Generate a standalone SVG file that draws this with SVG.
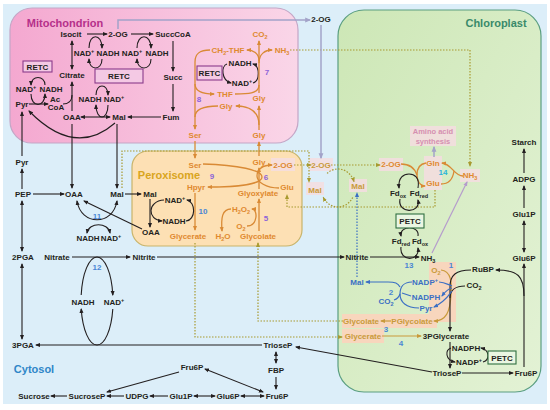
<svg xmlns="http://www.w3.org/2000/svg" width="550" height="410" viewBox="0 0 550 410">
<defs>
<linearGradient id="gm" x1="0" y1="0" x2="1" y2="0"><stop offset="0" stop-color="#f4a8d0"/><stop offset="1" stop-color="#fad6e8"/></linearGradient>
<linearGradient id="gc" x1="0" y1="0" x2="1" y2="1"><stop offset="0" stop-color="#cde7b6"/><stop offset="1" stop-color="#e3f2d5"/></linearGradient>
<marker id="mk" viewBox="0 0 10 10" refX="8" refY="5" markerWidth="5" markerHeight="5" markerUnits="userSpaceOnUse" orient="auto-start-reverse"><path d="M0,1 L10,5 L0,9 z" fill="#231f20"/></marker>
<marker id="mo" viewBox="0 0 10 10" refX="8" refY="5" markerWidth="5" markerHeight="5" markerUnits="userSpaceOnUse" orient="auto-start-reverse"><path d="M0,1 L10,5 L0,9 z" fill="#d98a35"/></marker>
<marker id="mv" viewBox="0 0 10 10" refX="8" refY="5" markerWidth="5" markerHeight="5" markerUnits="userSpaceOnUse" orient="auto-start-reverse"><path d="M0,1 L10,5 L0,9 z" fill="#c99a3a"/></marker>
<marker id="md" viewBox="0 0 10 10" refX="8" refY="5" markerWidth="5" markerHeight="5" markerUnits="userSpaceOnUse" orient="auto-start-reverse"><path d="M0,1 L10,5 L0,9 z" fill="#a89a30"/></marker>
<marker id="mb" viewBox="0 0 10 10" refX="8" refY="5" markerWidth="5" markerHeight="5" markerUnits="userSpaceOnUse" orient="auto-start-reverse"><path d="M0,1 L10,5 L0,9 z" fill="#3b6fc4"/></marker>
<marker id="mg" viewBox="0 0 10 10" refX="8" refY="5" markerWidth="6" markerHeight="6" markerUnits="userSpaceOnUse" orient="auto-start-reverse"><path d="M0,1 L10,5 L0,9 z" fill="#a3a3c9"/></marker>
<marker id="mp" viewBox="0 0 10 10" refX="8" refY="5" markerWidth="5" markerHeight="5" markerUnits="userSpaceOnUse" orient="auto-start-reverse"><path d="M0,1 L10,5 L0,9 z" fill="#b59ccc"/></marker>
<style>
text{font-family:"Liberation Sans",Arial,sans-serif;font-size:8px;font-weight:bold;text-anchor:middle;fill:#231f20}
.s{font-size:5.5px}
.o{fill:#e0892f}.v{fill:#c99a3a}.b{fill:#3b6fc4}.p{fill:#8c63d8}.nb{fill:#4a86d4}.c{fill:#2bb5d8}.am{fill:#d58fb0;font-size:7.5px}
.T{font-size:11px}
.k{fill:none;stroke:#231f20;stroke-width:1.1}
.ko{fill:none;stroke:#d98a35;stroke-width:1.3}
.kv{fill:none;stroke:#c99a3a;stroke-width:1.2}
.kd{fill:none;stroke:#a89a30;stroke-width:1.2;stroke-dasharray:1.5 1.5}
.kb{fill:none;stroke:#3b6fc4;stroke-width:1.2}
.kbd{fill:none;stroke:#3b6fc4;stroke-width:1.2;stroke-dasharray:1.5 1.5}
.kg{fill:none;stroke:#a3a3c9;stroke-width:1.5}
.kp{fill:none;stroke:#b59ccc;stroke-width:1.2}
.rb{fill:#f4c9e4;stroke:#8b3b8b;stroke-width:1.1}
.pb{fill:#eaf6e2;stroke:#2f6f40;stroke-width:1.1}
.hl{fill:#f8d6bd}
.hp{fill:#f4dde0;opacity:.85}
</style>
</defs>

<rect x="3" y="4" width="544" height="400" fill="#dceef9"/>

<g id="mitochondrion"><rect x="10" y="8" width="288" height="135" rx="22" fill="url(#gm)" stroke="#c4a6c6" stroke-width="1.2"/><text class="T" x="65" y="27" style="fill:#b5308a">Mitochondrion</text></g>
<g id="chloroplast"><rect x="338" y="10" width="203" height="382" rx="26" fill="url(#gc)" stroke="#5a9e80" stroke-width="1.2"/><text class="T" x="496" y="27" style="fill:#3a8a6a">Chloroplast</text></g>
<g id="peroxisome"><rect x="132" y="151" width="170" height="95" rx="16" fill="#fde0b4" stroke="#c9b46a" stroke-width="1.2"/><text class="T" x="169" y="179" style="fill:#d9a520">Peroxisome</text></g>
<g id="cytosol"><text class="T" x="34" y="373" style="fill:#2f86c8">Cytosol</text></g>

<g id="highlights">
<rect class="hl" x="342" y="314" width="95" height="14"/>
<rect class="hl" x="342" y="329" width="42" height="14"/>
<rect class="hl" x="429" y="262" width="27" height="60"/>
<rect class="hp" x="271" y="158" width="24" height="13"/>
<rect class="hp" x="309" y="158" width="24" height="13"/>
<rect class="hp" x="306" y="182" width="18" height="13"/>
<rect class="hp" x="349" y="179" width="18" height="13"/>
<rect class="hp" x="379" y="158" width="24" height="13"/>
<rect class="hp" x="424" y="156" width="18" height="34"/>
<rect class="hp" x="460" y="169" width="20" height="13"/>
<rect class="hp" x="410" y="126" width="46" height="20"/>
</g>

<g id="connectors">
<path class="k" d="M87,34 L107,34" marker-end="url(#mk)"/>
<path class="k" d="M131,34 L153,34" marker-end="url(#mk)"/>
<path class="k" d="M72,41 L72,69" marker-start="url(#mk)" marker-end="url(#mk)"/>
<path class="k" d="M72,111 L72,82" marker-end="url(#mk)"/>
<path class="k" d="M63,104 C68,104 72,101 72,95"/>
<path class="k" d="M29,104 L48,104" marker-end="url(#mk)"/>
<path class="k" d="M173,41 L173,71" marker-end="url(#mk)"/>
<path class="k" d="M173,84 L173,111" marker-end="url(#mk)"/>
<path class="k" d="M161,117 L128,117" marker-end="url(#mk)"/>
<path class="k" d="M81,117 L110,117" marker-start="url(#mk)" marker-end="url(#mk)"/>
<path class="k" d="M115,123 Q75,158 29,111" marker-end="url(#mk)"/>
<path class="k" d="M89,48 C89,33 102,33 102,48" marker-end="url(#mk)"/>
<path class="k" d="M102,59 C102,71 89,71 89,59" marker-end="url(#mk)"/>
<path class="k" d="M137,48 C137,33 151,33 151,48" marker-end="url(#mk)"/>
<path class="k" d="M151,59 C151,71 137,71 137,59" marker-end="url(#mk)"/>
<path class="k" d="M45,85 C45,75 31,75 31,85" marker-end="url(#mk)"/>
<path class="k" d="M31,94 C31,108 45,108 45,94" marker-end="url(#mk)"/>
<path class="k" d="M96,95 C96,83 108,83 108,95" marker-end="url(#mk)"/>
<path class="k" d="M108,105 C108,121 96,121 96,105" marker-end="url(#mk)"/>
<path class="k" d="M253,83 C260,81 260,66 253,64" marker-end="url(#mk)"/>
<path class="k" d="M227,64 C221,66 221,80 231,83" marker-end="url(#mk)"/>
<path class="ko" d="M259,93 L259,41" marker-end="url(#mo)"/>
<path class="ko" d="M259,130 L259,106" marker-end="url(#mo)"/>
<path class="ko" d="M259,125 C259,112 250,106 236,106" marker-end="url(#mo)"/>
<path class="ko" d="M259,63 C259,54 265,50 272,50" marker-end="url(#mo)"/>
<path class="ko" d="M259,85 C259,94 247,94 235,94"/>
<path class="ko" d="M259,61 C259,53 253,50 247,50" marker-end="url(#mo)"/>
<path class="ko" d="M210,50 C199,50 195,54 195,62 L195,129" marker-end="url(#mo)"/>
<path class="ko" d="M195,84 C195,91 201,94 214,94" marker-end="url(#mo)"/>
<path class="ko" d="M218,106 C205,106 195,108 195,117"/>
<path class="ko" d="M195,141 L195,158" marker-end="url(#mo)"/>
<path class="ko" d="M259,156 L259,142" marker-end="url(#mo)"/>
<path class="ko" d="M259,189 L259,168" marker-end="url(#mo)"/>
<path class="ko" d="M203,164 C238,165 262,170 262,177 C262,184 238,187 208,187" marker-end="url(#mo)"/>
<path class="ko" d="M279,188 C266,188 257,182 257,176 C257,169 263,165 272,165" marker-end="url(#mo)"/>
<path class="ko" d="M259,231 L259,199" marker-end="url(#mo)"/>
<path class="ko" d="M247,226 C258,226 258,209 252,209" marker-end="url(#mo)"/>
<path class="ko" d="M231,209 C222,209 221,218 222,231" marker-end="url(#mo)"/>
<path class="ko" d="M195,193 L195,230" marker-end="url(#mo)"/>
<path class="k" d="M125,194 L141,194" marker-end="url(#mk)"/>
<path class="k" d="M150,199 L150,227" marker-end="url(#mk)"/>
<path class="k" d="M164,200 C147,201 147,220 162,221" marker-end="url(#mk)"/>
<path class="k" d="M186,221 C196,220 196,202 187,200" marker-end="url(#mk)"/>
<path class="k" d="M142,229 L84,201" marker-end="url(#mk)"/>
<path class="k" d="M22,156 L22,112" marker-end="url(#mk)"/>
<path class="k" d="M22,189 L22,169" marker-end="url(#mk)"/>
<path class="k" d="M22,201 L22,251" marker-start="url(#mk)" marker-end="url(#mk)"/>
<path class="k" d="M22,264 L22,339" marker-start="url(#mk)" marker-end="url(#mk)"/>
<path class="k" d="M33,194 L64,194" marker-end="url(#mk)"/>
<path class="k" d="M72,124 L72,188" marker-end="url(#mk)"/>
<path class="k" d="M117,124 L117,188" marker-end="url(#mk)"/>
<path class="k" d="M77,201 C81,226 113,226 117,201" marker-start="url(#mk)" marker-end="url(#mk)"/>
<path class="k" d="M87,233 C89,222 108,222 110,233" marker-start="url(#mk)" marker-end="url(#mk)"/>
<path class="k" d="M72,257 L130,257" marker-end="url(#mk)"/>
<path class="k" d="M157,257 L344,257" marker-end="url(#mk)"/>
<path class="k" d="M81.2,295 A16,44 0 0 1 97,257"/>
<path class="k" d="M97,257 A16,44 0 0 1 112.8,295" marker-end="url(#mk)"/>
<path class="k" d="M112.8,309 A16,44 0 0 1 97,345"/>
<path class="k" d="M97,345 A16,44 0 0 1 81.2,309" marker-end="url(#mk)"/>
<path class="k" d="M262,345 L36,345" marker-end="url(#mk)"/>
<path class="k" d="M276,352 L276,363" marker-start="url(#mk)" marker-end="url(#mk)"/>
<path class="k" d="M276,377 L276,389" marker-end="url(#mk)"/>
<path class="k" d="M205,369 L263,392" marker-start="url(#mk)" marker-end="url(#mk)"/>
<path class="k" d="M179,372 L107,392" marker-end="url(#mk)"/>
<path class="k" d="M241,396 L264,396" marker-start="url(#mk)" marker-end="url(#mk)"/>
<path class="k" d="M194,396 L215,396" marker-start="url(#mk)" marker-end="url(#mk)"/>
<path class="k" d="M168,396 L150,396" marker-end="url(#mk)"/>
<path class="k" d="M124,396 L107,396" marker-end="url(#mk)"/>
<path class="k" d="M67,396 L51,396" marker-end="url(#mk)"/>
<path class="k" d="M432,372 L296,347" marker-end="url(#mk)"/>
<path class="kd" d="M290,50 L470,50 L470,166" marker-end="url(#md)"/>
<path class="kd" d="M294,165 L311,165" marker-end="url(#md)"/>
<path class="kd" d="M331,165 L380,165" marker-end="url(#md)"/>
<path class="kd" d="M435,190 L435,207 L287,207 L287,195" marker-end="url(#md)"/>
<path class="kd" d="M122,188 L122,151 L309,151 L309,182" marker-end="url(#md)"/>
<path class="kd" d="M343,321 L258,321 L258,243" marker-end="url(#md)"/>
<path class="kd" d="M195,243 L195,337 L342,337" marker-end="url(#md)"/>
<path class="kd" d="M327.1,173.4 A17,19 0 0 1 354,181.5" marker-end="url(#md)"/>
<path class="kd" d="M352.7,197.5 A17,19 0 0 1 323.3,197.5" marker-end="url(#md)"/>
<path class="kbd" d="M357,277 L357,193" marker-end="url(#mb)"/>
<path class="kg" d="M118,29 L118,20 L310,20" marker-end="url(#mg)"/>
<path class="kg" d="M321,25 L321,158" marker-end="url(#mg)"/>
<path class="kg" d="M434,157 L434,147" marker-end="url(#mg)"/>
<path class="kp" d="M432,253 L467,182" marker-end="url(#mp)"/>
<path class="ko" d="M401,164 C410,164 415,169 417,175"/>
<path class="ko" d="M426,163 C419,164 417,169 417,175 C417,181 420,186 425,186" marker-end="url(#mo)"/>
<path class="ko" d="M463,176 C454,176 452,164 442,163" marker-end="url(#mo)"/>
<path class="ko" d="M441,184 C449,184 453,178 454,171"/>
<path class="kv" d="M441,270 C451,271 452,282 451,295 C450,312 446,321 434,321" marker-end="url(#mv)"/>
<path class="kv" d="M382,336 L421,336" marker-end="url(#mv)"/>
<path class="kv" d="M391,321 L381,321" marker-end="url(#mv)"/>
<path class="k" d="M418,188 C420,177 414,174 409,174 C404,174 398,177 399,188" marker-end="url(#mk)"/>
<path class="k" d="M400,199 C397,214 421,214 418,200" marker-end="url(#mk)"/>
<path class="k" d="M418,236 C420,225 399,225 401,236" marker-end="url(#mk)"/>
<path class="k" d="M401,247 C399,262 420,262 418,248" marker-end="url(#mk)"/>
<path class="k" d="M370,257 L419,257" marker-end="url(#mk)"/>
<path class="k" d="M524,252 L524,221" marker-start="url(#mk)" marker-end="url(#mk)"/>
<path class="k" d="M524,208 L524,186" marker-end="url(#mk)"/>
<path class="k" d="M524,173 L524,149" marker-end="url(#mk)"/>
<path class="k" d="M524,367 L524,264" marker-end="url(#mk)"/>
<path class="k" d="M524,296 C524,276 518,270 496,270" marker-end="url(#mk)"/>
<path class="k" d="M471,270 C456,270 450,275 450,287 L450,331" marker-end="url(#mk)"/>
<path class="k" d="M465,286 C456,286 450,290 450,298"/>
<path class="k" d="M450,342 L450,368" marker-end="url(#mk)"/>
<path class="k" d="M451,348 C445,350 445,360 455,362" marker-end="url(#mk)"/>
<path class="k" d="M483,362 C490,360 490,350 481,348" marker-end="url(#mk)"/>
<path class="k" d="M462,373 L513,373" marker-end="url(#mk)"/>
<path class="kb" d="M400,287 C398,283 395,282 388,282 L366,282" marker-end="url(#mb)"/>
<path class="kb" d="M412,282 C403,282 400,288 400,294 C400,302 406,308 419,308"/>
<path class="kb" d="M394,300 C397,299 399,297 400,294"/>
<path class="kb" d="M411,296 L402,293"/>
<path class="kb" d="M452,288 C447,289 445,292 442,296" marker-end="url(#mb)"/>
<path class="kb" d="M452,291 C448,296 446,301 434,307" marker-end="url(#mb)"/>
<path class="kb" d="M452,286 C447,284 444,282 439,282"/>
</g>

<g id="n-isocit"><text x="71" y="37">Isocit</text></g>
<g id="n-2og-m"><text x="118" y="37">2-OG</text></g>
<g id="n-succcoa"><text x="173" y="37">SuccCoA</text></g>
<g id="n-nad1"><text x="84" y="56">NAD<tspan class="s" dy="-3">+</tspan></text></g>
<g id="n-nadh1"><text x="108" y="56">NADH</text></g>
<g id="n-nad2"><text x="132" y="56">NAD<tspan class="s" dy="-3">+</tspan></text></g>
<g id="n-nadh2"><text x="157" y="56">NADH</text></g>
<g id="n-retc-m"><rect class="rb" x="95" y="69" width="48" height="14"/><text x="119" y="79">RETC</text></g>
<g id="n-citrate"><text x="72" y="78">Citrate</text></g>
<g id="n-succ"><text x="173" y="80">Succ</text></g>
<g id="n-retc-l"><rect class="rb" x="23" y="61" width="29" height="11"/><text x="37.5" y="69.5">RETC</text></g>
<g id="n-nad-l"><text x="26" y="92">NAD<tspan class="s" dy="-3">+</tspan></text></g>
<g id="n-nadh-l"><text x="51" y="92">NADH</text></g>
<g id="n-pyr-m"><text x="22" y="107">Pyr</text></g>
<g id="n-accoa"><text x="55" y="102">Ac</text><text x="56" y="110">CoA</text></g>
<g id="n-nadh-m"><text x="90" y="102">NADH</text></g>
<g id="n-nad-m"><text x="114" y="102">NAD<tspan class="s" dy="-3">+</tspan></text></g>
<g id="n-oaa-m"><text x="72" y="120">OAA</text></g>
<g id="n-mal-m"><text x="119" y="120">Mal</text></g>
<g id="n-fum"><text x="171" y="120">Fum</text></g>
<g id="n-co2-m"><text class="o" x="260" y="37">CO<tspan class="s" dy="2">2</tspan></text></g>
<g id="n-ch2thf"><text class="o" x="228" y="53">CH<tspan class="s" dy="2">2</tspan><tspan dy="-2">-THF</tspan></text></g>
<g id="n-nh3-m"><text class="o" x="282" y="53">NH<tspan class="s" dy="2">3</tspan></text></g>
<g id="n-retc-p"><rect class="rb" x="197" y="66" width="25" height="14"/><text x="209.5" y="76">RETC</text></g>
<g id="n-nadh-p"><text x="240" y="66">NADH</text></g>
<g id="n-nad-p"><text x="242" y="86">NAD<tspan class="s" dy="-3">+</tspan></text></g>
<g id="n-7"><text class="p" x="267" y="75">7</text></g>
<g id="n-thf"><text class="o" x="225" y="97">THF</text></g>
<g id="n-8"><text class="p" x="199" y="102">8</text></g>
<g id="n-gly-m1"><text class="o" x="259" y="101">Gly</text></g>
<g id="n-gly-m2"><text class="o" x="226" y="109">Gly</text></g>
<g id="n-ser-m"><text class="o" x="195" y="138">Ser</text></g>
<g id="n-gly-m3"><text class="o" x="259" y="138">Gly</text></g>
<g id="n-2og-top"><text x="321" y="22">2-OG</text></g>

<g id="n-ser-p"><text class="o" x="195" y="168">Ser</text></g>
<g id="n-gly-p"><text class="o" x="259" y="165">Gly</text></g>
<g id="n-2og-p"><text class="o" x="283" y="168">2-OG</text></g>
<g id="n-9"><text class="p" x="212" y="179">9</text></g>
<g id="n-6"><text class="p" x="266" y="180">6</text></g>
<g id="n-hpyr"><text class="o" x="196" y="190">Hpyr</text></g>
<g id="n-glu-p"><text class="o" x="287" y="190">Glu</text></g>
<g id="n-glyoxylate"><text class="o" x="258" y="196">Glyoxylate</text></g>
<g id="n-10"><text class="nb" x="203" y="214">10</text></g>
<g id="n-nad-px"><text x="175" y="203">NAD<tspan class="s" dy="-3">+</tspan></text></g>
<g id="n-nadh-px"><text x="174" y="224">NADH</text></g>
<g id="n-mal-p"><text x="150" y="197">Mal</text></g>
<g id="n-oaa-p"><text x="151" y="235">OAA</text></g>
<g id="n-h2o2"><text class="o" x="241" y="212">H<tspan class="s" dy="2">2</tspan><tspan dy="-2">O</tspan><tspan class="s" dy="2">2</tspan></text></g>
<g id="n-5"><text class="p" x="266" y="221">5</text></g>
<g id="n-o2-p"><text class="o" x="241" y="229">O<tspan class="s" dy="2">2</tspan></text></g>
<g id="n-glycerate-p"><text class="o" x="188" y="239">Glycerate</text></g>
<g id="n-h2o"><text class="o" x="223" y="239">H<tspan class="s" dy="2">2</tspan><tspan dy="-2">O</tspan></text></g>
<g id="n-glycolate-p"><text class="o" x="258" y="239">Glycolate</text></g>

<g id="n-pyr-c"><text x="22" y="165">Pyr</text></g>
<g id="n-pep"><text x="23" y="197">PEP</text></g>
<g id="n-oaa-c"><text x="74" y="197">OAA</text></g>
<g id="n-mal-c"><text x="117" y="197">Mal</text></g>
<g id="n-11"><text class="nb" x="97" y="219">11</text></g>
<g id="n-nadh-c"><text x="88" y="241">NADH</text></g>
<g id="n-nad-c"><text x="111" y="241">NAD<tspan class="s" dy="-3">+</tspan></text></g>
<g id="n-2pga"><text x="23" y="260">2PGA</text></g>
<g id="n-nitrate"><text x="57" y="260">Nitrate</text></g>
<g id="n-nitrite-c"><text x="144" y="260">Nitrite</text></g>
<g id="n-12"><text class="nb" x="97" y="270">12</text></g>
<g id="n-nadh-c2"><text x="83" y="305">NADH</text></g>
<g id="n-nad-c2"><text x="114" y="305">NAD<tspan class="s" dy="-3">+</tspan></text></g>
<g id="n-3pga"><text x="23" y="348">3PGA</text></g>
<g id="n-triosep-c"><text x="278" y="348">TrioseP</text></g>
<g id="n-fbp"><text x="276" y="373">FBP</text></g>
<g id="n-fru6p-c1"><text x="192" y="370">Fru6P</text></g>
<g id="n-sucrose"><text x="34" y="399">Sucrose</text></g>
<g id="n-sucrosep"><text x="87" y="399">SucroseP</text></g>
<g id="n-udpg"><text x="137" y="399">UDPG</text></g>
<g id="n-glu1p-c"><text x="181" y="399">Glu1P</text></g>
<g id="n-glu6p-c"><text x="228" y="399">Glu6P</text></g>
<g id="n-fru6p-c2"><text x="277" y="399">Fru6P</text></g>
<g id="n-2og-x"><text class="v" x="321" y="168">2-OG</text></g>
<g id="n-mal-x"><text class="v" x="315" y="193">Mal</text></g>

<g id="n-amino"><text class="am" x="433" y="134">Amino acid</text><text class="am" x="433" y="144">synthesis</text></g>
<g id="n-2og-ch"><text class="o" x="391" y="167">2-OG</text></g>
<g id="n-gln"><text class="o" x="433" y="166">Gln</text></g>
<g id="n-glu-ch"><text class="o" x="433" y="186">Glu</text></g>
<g id="n-14"><text class="c" x="443" y="175">14</text></g>
<g id="n-nh3-ch1"><text class="o" x="470" y="178">NH<tspan class="s" dy="2">3</tspan></text></g>
<g id="n-mal-ch"><text class="v" x="358" y="189">Mal</text></g>
<g id="n-fdox1"><text x="398" y="196">Fd<tspan class="s" dy="2">ox</tspan></text></g>
<g id="n-fdred1"><text x="419" y="196">Fd<tspan class="s" dy="2">red</tspan></text></g>
<g id="n-petc1"><rect class="pb" x="396" y="214" width="28" height="14"/><text x="410" y="224">PETC</text></g>
<g id="n-fdred2"><text x="401" y="244">Fd<tspan class="s" dy="2">red</tspan></text></g>
<g id="n-fdox2"><text x="420" y="244">Fd<tspan class="s" dy="2">ox</tspan></text></g>
<g id="n-nitrite-ch"><text x="357" y="260">Nitrite</text></g>
<g id="n-nh3-ch2"><text x="428" y="261">NH<tspan class="s" dy="2">3</tspan></text></g>
<g id="n-13"><text class="nb" x="409" y="268">13</text></g>
<g id="n-starch"><text x="524" y="145">Starch</text></g>
<g id="n-adpg"><text x="524" y="182">ADPG</text></g>
<g id="n-glu1p-ch"><text x="524" y="217">Glu1P</text></g>
<g id="n-glu6p-ch"><text x="524" y="261">Glu6P</text></g>
<g id="n-o2-ch"><text class="v" x="436" y="273">O<tspan class="s" dy="2">2</tspan></text></g>
<g id="n-1"><text class="nb" x="451" y="268">1</text></g>
<g id="n-rubp"><text x="483" y="272">RuBP</text></g>
<g id="n-co2-ch"><text x="474" y="288">CO<tspan class="s" dy="2">2</tspan></text></g>
<g id="n-mal-b"><text class="b" x="357" y="285">Mal</text></g>
<g id="n-nadp-b"><text class="b" x="425" y="285">NADP<tspan class="s" dy="-3">+</tspan></text></g>
<g id="n-2"><text class="nb" x="391" y="295">2</text></g>
<g id="n-nadph-b"><text class="b" x="426" y="300">NADPH</text></g>
<g id="n-co2-b"><text class="b" x="386" y="304">CO<tspan class="s" dy="2">2</tspan></text></g>
<g id="n-pyr-b"><text class="b" x="426" y="311">Pyr</text></g>
<g id="n-glycolate-ch"><text class="v" x="361" y="324">Glycolate</text></g>
<g id="n-pglycolate"><text class="v" x="412" y="324">PGlycolate</text></g>
<g id="n-3"><text class="nb" x="386" y="332">3</text></g>
<g id="n-glycerate-ch"><text class="v" x="363" y="339">Glycerate</text></g>
<g id="n-4"><text class="nb" x="401" y="346">4</text></g>
<g id="n-3pglycerate"><text x="446" y="339">3PGlycerate</text></g>
<g id="n-nadph-ch"><text x="466" y="351">NADPH</text></g>
<g id="n-nadp-ch"><text x="469" y="365">NADP<tspan class="s" dy="-3">+</tspan></text></g>
<g id="n-petc2"><rect class="pb" x="488" y="351" width="28" height="13"/><text x="502" y="360.5">PETC</text></g>
<g id="n-triosep-ch"><text x="447" y="376">TrioseP</text></g>
<g id="n-fru6p-ch"><text x="526" y="376">Fru6P</text></g>
</svg>
